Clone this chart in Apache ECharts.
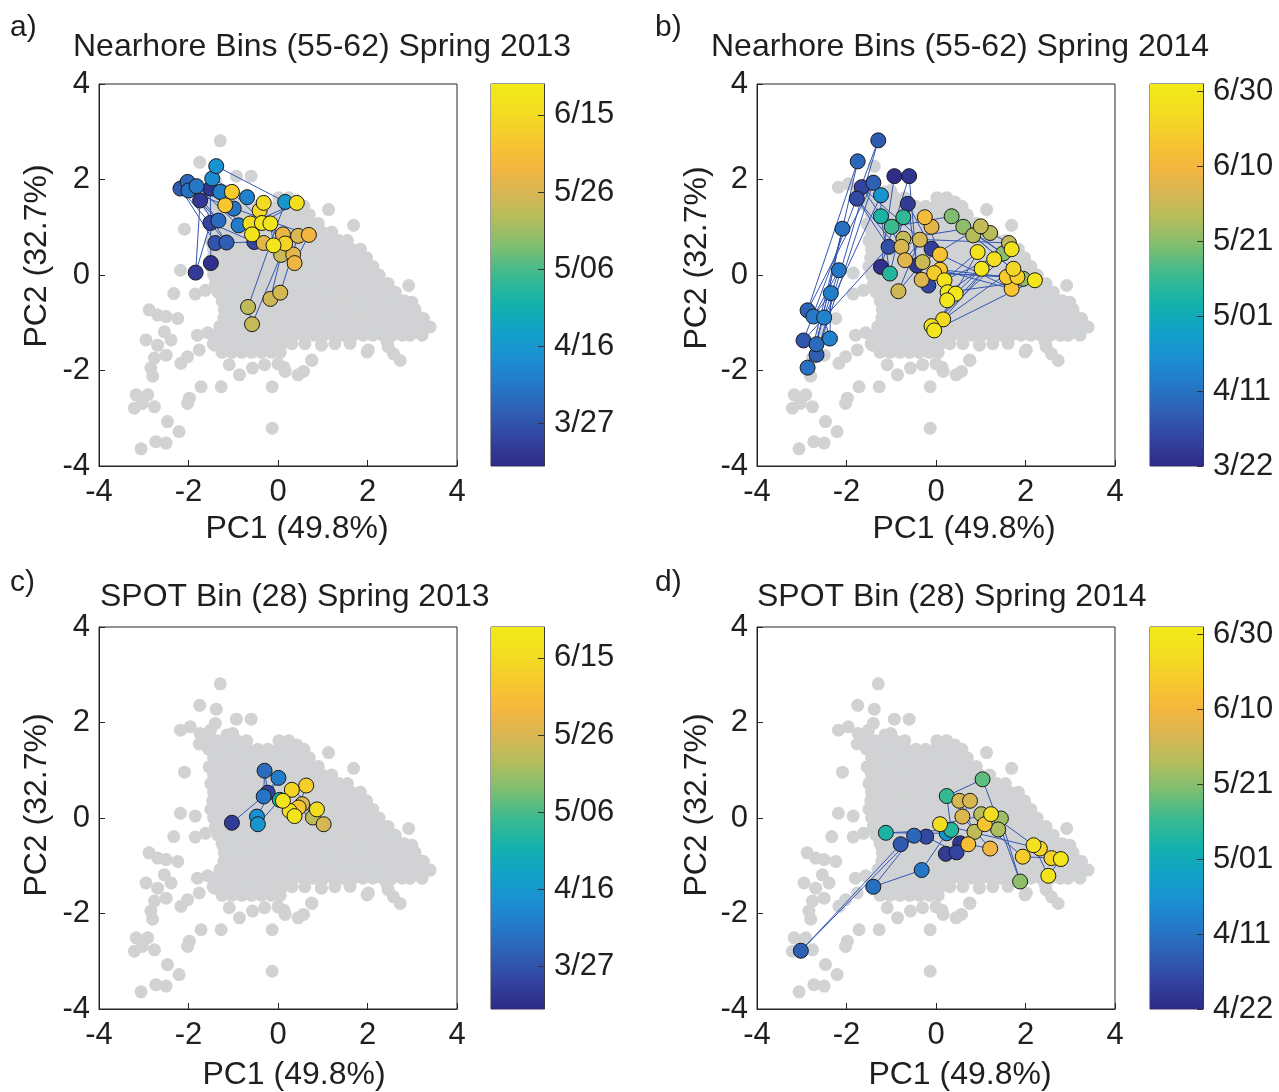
<!DOCTYPE html>
<html><head><meta charset="utf-8">
<script src="https://cdn.jsdelivr.net/npm/echarts@6/dist/echarts.min.js"></script>
<style>html,body{margin:0;padding:0;background:#fff}#c{width:1279px;height:1092px}</style>
</head><body><div id="c"></div>
<script>
// ---------------- DATA ----------------
// Background cloud (all samples), rows of the dense core: [PC2, [PC1 values]]
const grayCloudRows = [
  [1.62, [-1.58,-1.36,-1.14,-0.92,-0.70,0.02,0.24]],
  [1.44, [-1.55,-1.33,-1.11,-0.89,-0.67,-0.45,-0.23,-0.01,0.21,0.43,0.58]],
  [1.26, [-1.44,-1.22,-1.00,-0.78,-0.56,-0.34,-0.12,0.10,0.32,0.54,0.70]],
  [1.08, [-1.30,-1.08,-0.86,-0.64,-0.42,-0.20,0.02,0.24,0.46,0.68,0.90]],
  [0.90, [-1.44,-1.22,-1.00,-0.78,-0.56,-0.34,-0.12,0.10,0.32,0.54,0.76,0.98,1.20]],
  [0.72, [-1.50,-1.28,-1.06,-0.84,-0.62,-0.40,-0.18,0.04,0.26,0.48,0.70,0.92,1.14,1.36,1.55]],
  [0.54, [-1.44,-1.22,-1.00,-0.78,-0.56,-0.34,-0.12,0.10,0.32,0.54,0.76,0.98,1.20,1.42,1.64,1.84]],
  [0.36, [-1.46,-1.24,-1.02,-0.80,-0.58,-0.36,-0.14,0.08,0.30,0.52,0.74,0.96,1.18,1.40,1.62,1.84,1.98]],
  [0.18, [-1.50,-1.28,-1.06,-0.84,-0.62,-0.40,-0.18,0.04,0.26,0.48,0.70,0.92,1.14,1.36,1.58,1.80,2.02,2.12]],
  [0.00, [-1.44,-1.22,-1.00,-0.78,-0.56,-0.34,-0.12,0.10,0.32,0.54,0.76,0.98,1.20,1.42,1.64,1.86,2.08,2.26]],
  [-0.18, [-1.40,-1.18,-0.96,-0.74,-0.52,-0.30,-0.08,0.14,0.36,0.58,0.80,1.02,1.24,1.46,1.68,1.90,2.12,2.34,2.46]],
  [-0.36, [-1.34,-1.12,-0.90,-0.68,-0.46,-0.24,-0.02,0.20,0.42,0.64,0.86,1.08,1.30,1.52,1.74,1.96,2.18,2.40,2.62]],
  [-0.54, [-1.25,-1.03,-0.81,-0.59,-0.37,-0.15,0.07,0.29,0.51,0.73,0.95,1.17,1.39,1.61,1.83,2.05,2.27,2.49,2.71,2.82]],
  [-0.72, [-1.20,-0.98,-0.76,-0.54,-0.32,-0.10,0.12,0.34,0.56,0.78,1.00,1.22,1.44,1.66,1.88,2.10,2.32,2.54,2.76,2.98,3.06]],
  [-0.90, [-1.21,-0.99,-0.77,-0.55,-0.33,-0.11,0.11,0.33,0.55,0.77,0.99,1.21,1.43,1.65,1.87,2.09,2.31,2.53,2.75,2.97,3.19]],
  [-1.08, [-1.30,-1.08,-0.86,-0.64,-0.42,-0.20,0.02,0.24,0.46,0.68,0.90,1.12,1.34,1.56,1.78,2.00,2.22,2.44,2.66,2.88,3.10,3.32]],
  [-1.26, [-1.40,-1.18,-0.96,-0.74,-0.52,-0.30,-0.08,0.14,0.36,0.58,0.80,1.02,1.24,1.46,1.68,1.90,2.12,2.34,2.56,2.78,2.95]],
  [-1.44, [-1.45,-1.23,-1.01,-0.79,-0.57,-0.35,-0.13,0.09,0.31,0.60,1.27]],
  [-1.62, [-1.25,-1.03,-0.81,-0.59,-0.37,-0.15,0.05]]
];
// Background cloud: scattered samples outside the dense core [PC1, PC2]
const grayOutliers = [
  [-1.29,2.81],[-1.75,2.36],[-1.38,2.28],[-0.93,2.07],[-0.60,2.07],
  [-2.18,1.84],[-1.96,1.91],[-1.74,1.77],[-1.51,1.84],[-1.40,1.98],[-1.14,1.74],[-1.01,1.77],
  [-1.76,1.55],[0.16,1.58],[0.42,1.53],[1.13,1.37],[1.69,1.04],
  [-2.09,0.96],[-1.54,1.07],[-2.18,0.10],[-1.85,0.04],
  [-2.33,-0.39],[-1.85,-0.40],[-1.62,-0.32],[2.92,-0.22],[2.99,-0.57],
  [-2.88,-0.73],[-2.69,-0.84],[-2.50,-0.87],[-2.24,-0.91],
  [-2.54,-1.19],[-2.39,-1.36],[-2.95,-1.36],[-2.69,-1.47],[-2.50,-1.68],[-2.76,-1.74],[-2.84,-1.95],[-2.80,-2.12],
  [-2.17,-1.85],[-2.02,-1.71],[-1.76,-1.57],[-1.80,-1.26],[-1.57,-1.21],[-1.42,-1.47],
  [-1.72,-2.34],[-1.27,-2.34],[-1.98,-2.58],[-2.02,-2.69],
  [-1.09,-1.88],[-0.86,-2.09],[-0.57,-1.95],[-0.30,-1.88],[-0.13,-2.34],[0.00,-1.86],[0.16,-2.02],
  [0.45,-2.09],[0.57,-2.02],[0.76,-1.79],[0.13,-1.93],
  [-3.17,-2.51],[-2.91,-2.51],[-3.21,-2.79],[-2.76,-2.76],[-3.03,-2.69],
  [-2.47,-3.07],[-2.21,-3.28],[-2.73,-3.49],[-2.50,-3.52],[-3.06,-3.64],[-0.13,-3.21],
  [1.99,-1.61],[2.58,-1.65],[2.73,-1.79],[2.44,-1.40],[2.46,-1.50],[2.02,-1.57],[1.61,-1.43],[0.97,-1.47],[0.75,-1.78],
  [3.26,-1.05],[3.40,-1.09],[3.22,-1.26],[3.25,-0.91]
];

// a) Nearshore bins, spring 2013 (day of year)
const a13PC1 = [-1.38,-2.18,-2.02,-1.82,-2.00,-1.47,-1.51,-1.74,-1.29,-0.99,-0.69,-1.03,-1.18,-0.32,0.16,0.42,-0.41,-1.51,-1.33,-0.88,-0.62,-0.36,-0.17,-0.58,-0.53,-0.32,-0.10,0.11,0.45,0.69,0.34,0.37,0.07,0.16,-1.40,-1.15,-1.50,-1.84,0.05,-0.17,-0.67,-0.58];
const a13PC2 = [2.28,1.81,1.95,1.86,1.77,2.02,1.81,1.56,1.74,1.39,1.63,1.74,1.46,1.51,1.53,1.51,1.35,1.09,1.14,1.04,1.08,1.09,1.08,0.85,0.69,0.67,0.62,0.85,0.82,0.84,0.43,0.25,0.42,0.66,0.67,0.68,0.25,0.05,-0.37,-0.50,-0.67,-1.03];
const a13Day = [104,88,91,96,94,101,78,79,98,95,99,161,159,166,106,168,165,82,92,97,167,169,171,170,83,148,172,150,146,152,149,151,143,163,86,89,77,80,145,144,141,142];

// b) Nearshore bins, spring 2014
const b14PC1 = [-1.29,-1.75,-0.93,-0.60,-1.40,-1.66,-1.77,-1.23,-0.63,-2.09,-1.23,-0.73,-0.99,-2.17,-2.35,-2.87,-2.74,-2.50,-2.96,-2.67,-2.37,-2.67,-2.87,-1.23,-1.03,-1.06,-0.84,-0.73,-0.77,-0.69,-0.36,-0.25,-0.10,-0.10,0.09,-0.30,-0.32,-0.17,-0.43,0.09,-0.04,0.19,0.26,0.44,0.25,0.16,-0.10,-0.04,0.35,0.61,0.83,1.00,1.21,0.93,1.02,1.30,1.63,1.69,1.50,1.73,1.58,1.69,1.82,2.21,1.95];
const b14PC2 = [2.82,2.38,2.07,2.07,1.93,1.84,1.60,1.67,1.49,0.97,1.23,1.21,1.01,0.10,-0.38,-0.74,-0.87,-0.89,-1.37,-1.45,-1.33,-1.67,-1.94,0.17,0.03,0.59,-0.34,0.76,0.59,0.31,0.74,1.21,1.01,0.55,0.43,0.27,-0.10,-0.22,0.20,0.11,0.04,-0.11,-0.36,-0.39,-0.53,-0.93,-1.07,-1.16,1.23,1.01,0.83,1.02,0.88,0.48,0.13,0.33,0.67,0.54,0.45,0.13,-0.04,-0.29,-0.04,-0.11,-0.08];
const b14Day = [94,98,82,84,96,88,90,112,86,100,126,130,132,102,104,97,103,106,93,99,105,95,101,83,128,91,152,150,154,156,153,163,157,87,166,151,155,89,85,168,170,179,181,182,182,175,177,180,140,142,147,150,148,179,181,176,149,178,141,173,169,167,171,180,143];

// c) SPOT bin 28, spring 2013
const c13PC1 = [-1.03,-0.30,0.01,-0.23,-0.32,-0.47,-0.45,0.04,0.11,0.31,0.63,0.54,0.46,0.26,0.37,0.87,0.78,1.02];
const c13PC2 = [-0.10,0.99,0.84,0.53,0.45,0.03,-0.13,0.38,0.36,0.59,0.68,0.29,0.22,0.15,0.04,0.18,0.01,-0.13];
const c13Day = [80,92,97,82,95,103,105,118,170,164,162,147,158,168,171,167,141,145];

// d) SPOT bin 28, spring 2014
const d14PC1 = [-3.02,-1.40,-0.32,-0.79,-1.12,-0.49,-0.22,0.22,0.46,0.54,0.24,0.34,0.24,0.09,1.04,0.52,0.76,0.59,1.01,1.23,1.45,1.09,0.86,1.39,0.72,1.21,1.88,1.94,2.18,2.32,2.58,2.79,2.51];
const d14PC2 = [-2.78,-1.44,-1.09,-0.55,-0.31,-0.37,-0.39,-0.75,-0.72,-0.53,-0.32,-0.25,0.46,-0.13,0.81,0.36,0.36,0.03,0.08,0.08,-0.01,-0.13,-0.29,-0.24,-0.55,-0.64,-1.33,-0.81,-0.57,-0.64,-0.84,-0.86,-1.21];
const d14Day = [96,100,102,94,126,98,90,86,88,84,110,128,131,176,136,153,154,155,148,177,144,167,149,146,165,160,142,169,178,173,172,180,179];

// colour bar ranges (day of year) and tick labels
const range2013 = [75, 174];
const range2014 = [81, 183];
const ticks2013 = [86, 106, 126, 146, 166];
const labels2013 = ['3/27', '4/16', '5/06', '5/26', '6/15'];
const ticks2014 = [81, 101, 121, 141, 161, 181];
const labelsB = ['3/22', '4/11', '5/01', '5/21', '6/10', '6/30'];
const labelsD = ['4/22', '4/11', '5/01', '5/21', '6/10', '6/30'];

const titles = ['Nearhore Bins (55-62) Spring 2013', 'Nearhore Bins (55-62) Spring 2014',
                'SPOT Bin (28) Spring 2013', 'SPOT Bin (28) Spring 2014'];
const letters = ['a)', 'b)', 'c)', 'd)'];
const xName = 'PC1 (49.8%)';
const yName = 'PC2 (32.7%)';

// ---------------- BUILD ----------------
const parula = ['#2e2a84','#3344a0','#2f5fb4','#2479c8','#1a90d2','#11a3c6','#15b2aa','#3bba8f','#7bbe71','#b2bd5d','#d7b652','#f5b63e','#f6c92d','#f3dd21','#f2ea18'];
const FONT = '"Liberation Sans", Arial, Helvetica, sans-serif';
const TXT = '#1f1f1f';

const grayPts = [];
grayCloudRows.forEach(r => r[1].forEach(x => grayPts.push([x, r[0]])));
grayOutliers.forEach(p => grayPts.push(p));

function ordered(pc1, pc2, day) {
  const idx = pc1.map((_, i) => i).sort((p, q) => day[p] - day[q]);
  return idx.map(i => [pc1[i], pc2[i], day[i]]);
}
const panelData = [
  ordered(a13PC1, a13PC2, a13Day),
  ordered(b14PC1, b14PC2, b14Day),
  ordered(c13PC1, c13PC2, c13Day),
  ordered(d14PC1, d14PC2, d14Day)
];
const ranges = [range2013, range2014, range2013, range2014];
const cbTicks = [ticks2013, ticks2014, ticks2013, ticks2014];
const cbLabels = [labels2013, labelsB, labels2013, labelsD];

const layout = [
  {left: 99, top: 84, cb: 491, lx: 10, ly: 28, tx: 73, ty: 47, yl: 37, yly: 256, xlx: 297, xly: 529},
  {left: 757, top: 84, cb: 1150, lx: 655, ly: 28, tx: 711, ty: 47, yl: 697, yly: 258, xlx: 964, xly: 529},
  {left: 99, top: 627, cb: 491, lx: 10, ly: 583, tx: 100, ty: 597, yl: 37, yly: 805, xlx: 294, xly: 1075},
  {left: 757, top: 627, cb: 1150, lx: 655, ly: 583, tx: 757, ty: 597, yl: 697, yly: 805, xlx: 960, xly: 1075}
];

const grids = [], xAxes = [], yAxes = [], series = [], visualMaps = [], graphics = [];
const W = 358, H = 382;
const axLine = {show: true, onZero: false, lineStyle: {color: '#262626', width: 1}};

layout.forEach((L, p) => {
  grids.push({left: L.left, top: L.top, width: W, height: H, show: true, borderColor: '#262626', borderWidth: 1, backgroundColor: '#fff', containLabel: false, outerBoundsMode: 'none'});
  xAxes.push({type: 'value', gridIndex: p, min: -4, max: 4, interval: 2, position: 'bottom', z: 10,
    axisLine: axLine, splitLine: {show: false},
    axisTick: {show: true, inside: true, length: 6, lineStyle: {color: '#262626'}},
    axisLabel: {fontSize: 31, fontFamily: FONT, color: TXT, margin: 11}});
  yAxes.push({type: 'value', gridIndex: p, min: -4, max: 4, interval: 2, position: 'left', z: 10,
    axisLine: axLine, splitLine: {show: false},
    axisTick: {show: true, inside: true, length: 6, lineStyle: {color: '#262626'}},
    axisLabel: {fontSize: 31, fontFamily: FONT, color: TXT, margin: 9}});
});
layout.forEach((L, p) => {
  const g = 4 + p;
  grids.push({left: L.cb, top: L.top, width: 53, height: H, show: true, borderColor: '#3a3a3a', borderWidth: 1, containLabel: false, outerBoundsMode: 'none'});
  xAxes.push({type: 'value', gridIndex: g, min: 0, max: 1, show: false});
  const tv = cbTicks[p], tl = cbLabels[p];
  yAxes.push({type: 'value', gridIndex: g, min: ranges[p][0], max: ranges[p][1], position: 'right', z: 10,
    axisLine: {show: true, onZero: false, lineStyle: {color: '#3a3a3a', width: 1}}, splitLine: {show: false},
    axisTick: {show: true, inside: true, length: 6, customValues: tv, lineStyle: {color: '#333', width: 1}},
    axisLabel: {fontSize: 31, fontFamily: FONT, color: TXT, margin: 10, customValues: tv,
      formatter: v => { const i = tv.indexOf(v); return i >= 0 ? tl[i] : ''; }}});
});

const gradStops = parula.map((c, i) => ({offset: i / (parula.length - 1), color: c}));

layout.forEach((L, p) => {
  const pts = panelData[p];
  series.push({type: 'scatter', xAxisIndex: p, yAxisIndex: p, data: grayPts, symbolSize: 13,
    itemStyle: {color: '#d1d2d4', opacity: 1}, silent: true, z: 1, animation: false});
  series.push({type: 'line', xAxisIndex: p, yAxisIndex: p, data: pts.map(d => [d[0], d[1]]),
    symbol: 'none', showSymbol: false, lineStyle: {color: '#3456b4', width: 1}, silent: true, z: 2, animation: false});
  const sIdx = series.length;
  series.push({type: 'scatter', xAxisIndex: p, yAxisIndex: p, data: pts, symbolSize: 15,
    itemStyle: {borderColor: '#1a1a1a', borderWidth: 1, opacity: 1}, z: 3, animation: false});
  visualMaps.push({type: 'continuous', show: false, seriesIndex: sIdx, dimension: 2,
    min: ranges[p][0], max: ranges[p][1], inRange: {color: parula}});
  series.push({type: 'custom', xAxisIndex: 4 + p, yAxisIndex: 4 + p, data: [[0, ranges[p][0], ranges[p][1]]],
    encode: {x: 0, y: [1, 2]}, silent: true, animation: false, z: 1,
    renderItem: (params, api) => {
      const a = api.coord([0, api.value(2)]);
      const b = api.coord([1, api.value(1)]);
      return {type: 'rect', shape: {x: a[0], y: a[1], width: b[0] - a[0], height: b[1] - a[1]},
        style: {fill: new echarts.graphic.LinearGradient(0, 1, 0, 0, gradStops)}};
    }});

  graphics.push({type: 'text', x: L.lx, y: L.ly, style: {text: letters[p], font: '30px ' + FONT, fill: TXT, align: 'left', verticalAlign: 'middle'}});
  graphics.push({type: 'text', x: L.tx, y: L.ty, style: {text: titles[p], font: '32px ' + FONT, fill: TXT, align: 'left', verticalAlign: 'middle'}});
  graphics.push({type: 'text', x: L.yl, y: L.yly, rotation: Math.PI / 2, style: {text: yName, font: '32px ' + FONT, fill: TXT, align: 'center', verticalAlign: 'middle'}});
  graphics.push({type: 'text', x: L.xlx, y: L.xly, style: {text: xName, font: '32px ' + FONT, fill: TXT, align: 'center', verticalAlign: 'middle'}});
});

const chart = echarts.init(document.getElementById('c'), null, {renderer: 'canvas'});
chart.setOption({
  animation: false,
  backgroundColor: '#fff',
  grid: grids, xAxis: xAxes, yAxis: yAxes,
  visualMap: visualMaps,
  series: series,
  graphic: graphics
});
</script></body></html>
